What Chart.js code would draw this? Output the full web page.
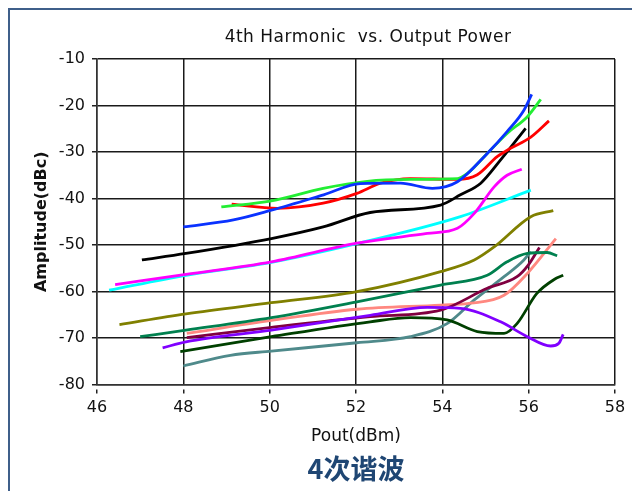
<!DOCTYPE html>
<html>
<head>
<meta charset="utf-8">
<script src="https://cdn.jsdelivr.net/npm/chart.js@4"></script>
<style>
  html, body { margin: 0; padding: 0; background: #fff; }
  #wrap { width: 632px; height: 491px; }
</style>
</head>
<body>
<div id="wrap"><canvas id="myChart" width="632" height="491"></canvas></div>
<script>
// axis ticks
const xTicks = [46, 48, 50, 52, 54, 56, 58];
const yTicks = [-10, -20, -30, -40, -50, -60, -70, -80];
const chartTitle = '4th Harmonic  vs. Output Power';

// series: [Pout dBm, amplitude dBc]
const blue = [[48.0,-46.1],[49.16,-44.6],[50.04,-42.5],[51.25,-39.2],[52.1,-36.8],[53.03,-36.7],[53.77,-37.8],[54.35,-36.4],[55.04,-30.3],[55.5,-25.6],[55.89,-21.0],[56.07,-17.6]];
const green = [[48.88,-41.8],[50.04,-40.5],[51.24,-37.8],[52.26,-36.3],[53.26,-35.9],[54.35,-35.7],[54.58,-34.6],[55.04,-30.3],[55.5,-26.0],[55.97,-22.4],[56.28,-18.7]];
const red = [[49.12,-41.2],[50.18,-42.1],[51.24,-41.0],[52.02,-38.9],[52.57,-36.7],[53.26,-35.7],[54.35,-35.9],[54.81,-34.9],[55.27,-31.0],[55.58,-29.2],[56.05,-26.8],[56.47,-23.3]];
const black = [[47.04,-53.2],[48.06,-51.8],[50.04,-48.6],[51.24,-46.1],[52.33,-43.0],[53.96,-41.4],[54.42,-39.2],[54.89,-36.7],[55.35,-31.7],[55.93,-24.9]];
const magenta = [[46.42,-58.5],[48.06,-56.3],[50.04,-53.6],[52.02,-49.6],[53.65,-47.5],[54.35,-46.4],[54.74,-43.2],[55.2,-37.5],[55.5,-35.0],[55.84,-33.7]];
const cyan = [[46.28,-59.7],[48.06,-56.5],[50.04,-53.7],[52.02,-49.7],[54.42,-43.9],[56.05,-38.2]];
const olive = [[46.52,-67.1],[48.06,-64.8],[50.04,-62.4],[52.02,-60.0],[53.96,-55.7],[54.74,-53.2],[55.2,-50.4],[56.05,-43.9],[56.57,-42.6]];
const teal = [[47.0,-69.7],[48.06,-68.3],[50.04,-65.6],[52.02,-62.2],[53.96,-58.6],[55.04,-56.5],[55.5,-53.6],[55.97,-51.8],[56.43,-51.6],[56.66,-52.3]];
const salmon = [[48.08,-69.0],[50.04,-66.2],[52.02,-63.8],[53.96,-62.9],[54.66,-62.5],[55.43,-60.8],[55.97,-56.1],[56.63,-48.6]];
const maroon = [[48.08,-69.9],[50.04,-67.7],[52.33,-65.4],[53.96,-64.0],[55.04,-59.3],[55.73,-56.8],[55.99,-54.3],[56.25,-50.5]];
const purple = [[47.52,-72.1],[48.06,-70.8],[50.04,-68.3],[52.33,-65.1],[53.65,-63.4],[54.42,-63.6],[55.35,-66.5],[55.97,-69.7],[56.51,-71.7],[56.70,-71.1],[56.80,-69.2]];
const darkGreen = [[47.93,-72.9],[50.04,-69.7],[52.33,-66.5],[53.26,-65.6],[54.11,-66.1],[54.81,-68.6],[55.43,-69.0],[55.73,-66.9],[56.19,-60.4],[56.59,-57.4],[56.80,-56.5]];
const slate = [[48.0,-76.0],[49.09,-73.7],[50.04,-72.8],[52.02,-71.0],[53.26,-69.7],[54.11,-66.9],[54.74,-61.8],[55.43,-56.8],[55.89,-53.2],[56.05,-51.4]];

// first one is drawn on top
const seriesList = [
    [blue, '#0a32ff'], [green, '#22ee33'], [red, '#ff0000'], [black, '#000000'],
    [magenta, '#ff00ff'], [cyan, '#00ffff'], [olive, '#808000'], [teal, '#00804f'],
    [purple, '#8000ff'], [maroon, '#800040'], [salmon, '#ff8880'], [darkGreen, '#004000'],
    [slate, '#4f8a8b']
];

const fontFam = '"DejaVu Sans", sans-serif';

// outer frame (left + top edges) and the top title, which sits a bit right of centre
const framePlugin = {
    id: 'frame',
    beforeDraw(chart) {
        const c = chart.ctx;
        c.save();
        c.fillStyle = '#fff';
        c.fillRect(0, 0, chart.width, chart.height);
        c.strokeStyle = '#3f5f8a';
        c.lineWidth = 2;
        c.beginPath();
        c.moveTo(9, chart.height);
        c.lineTo(9, 9);
        c.lineTo(chart.width, 9);
        c.stroke();
        c.restore();
    },
    afterDraw(chart) {
        const c = chart.ctx;
        c.save();
        c.font = '17px ' + fontFam;
        c.letterSpacing = '0.5px';
        c.fillStyle = '#111';
        c.textAlign = 'center';
        c.textBaseline = 'middle';
        c.fillText(chartTitle, 368, 38);
        c.restore();
    }
};

const myChart = new Chart(document.getElementById('myChart'), {
    type: 'line',
    data: {
        datasets: seriesList.map(([pts, col]) => ({
            data: pts.map(p => ({ x: p[0], y: p[1] })),
            borderColor: col,
            borderWidth: 2.8,
            pointRadius: 0,
            fill: false,
            cubicInterpolationMode: 'monotone'
        }))
    },
    options: {
        responsive: false,
        animation: false,
        layout: { padding: { left: 0, right: 17, top: 59, bottom: 6 } },
        plugins: {
            legend: { display: false },
            tooltip: { enabled: false },
            title: { display: false },
            subtitle: {
                display: true,
                position: 'bottom',
                fullSize: false,
                text: '4次谐波',
                color: '#1f4673',
                font: { family: '"Noto Sans CJK SC", sans-serif', size: 27, weight: 'bold' },
                padding: { top: 0, bottom: 0 }
            }
        },
        scales: {
            x: {
                type: 'linear',
                min: 46,
                max: 58,
                afterBuildTicks: s => { s.ticks = xTicks.map(v => ({ value: v })); },
                afterFit: s => { s.height = 68; },
                grid: {
                    color: '#1a1a1a',
                    lineWidth: 1.5,
                    tickLength: 9,
                    tickColor: '#222',
                    tickBorderDash: [0, 4, 5, 100]
                },
                border: { color: '#333', width: 1.5 },
                ticks: {
                    color: '#111',
                    padding: 5,
                    maxRotation: 0,
                    font: { family: fontFam, size: 16 }
                },
                title: {
                    display: true,
                    text: 'Pout(dBm)',
                    color: '#111',
                    font: { family: fontFam, size: 17 },
                    padding: { top: 0, bottom: 6 }
                }
            },
            y: {
                min: -80,
                max: -10,
                afterBuildTicks: s => { s.ticks = yTicks.map(v => ({ value: v })); },
                afterFit: s => { s.width = 97; },
                grid: {
                    color: '#1a1a1a',
                    lineWidth: 1.5,
                    tickLength: 8,
                    tickColor: '#222',
                    tickBorderDash: [0, 3, 5, 100]
                },
                border: { color: '#333', width: 1.5 },
                ticks: {
                    color: '#111',
                    padding: 4,
                    font: { family: fontFam, size: 16 }
                },
                title: {
                    display: true,
                    text: 'Amplitude(dBc)',
                    color: '#111',
                    font: { family: fontFam, size: 16, weight: 'bold' },
                    padding: { top: 32, bottom: 0 }
                }
            }
        }
    },
    plugins: [framePlugin]
});
</script>
</body>
</html>
